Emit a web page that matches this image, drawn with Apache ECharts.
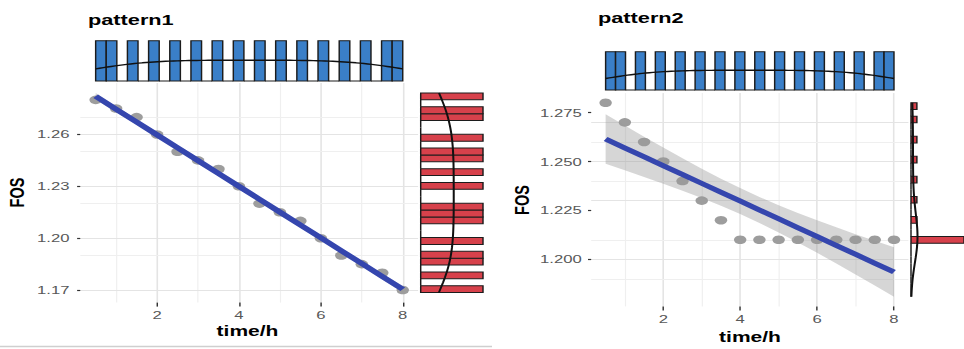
<!DOCTYPE html>
<html><head><meta charset="utf-8">
<script src="https://cdn.jsdelivr.net/npm/echarts@6/dist/echarts.min.js"></script>
<style>
html,body{margin:0;padding:0;background:#fff;overflow:hidden;width:964px;height:349px;}
#chart{position:absolute;left:0;top:0;width:665px;height:349px;transform:scaleX(1.449624);transform-origin:0 0;}
</style></head><body><div id="chart"></div>
<script>
// ---------------- data ----------------
const timeH = [0.5,1,1.5,2,2.5,3,3.5,4,4.5,5,5.5,6,6.5,7,7.5,8];
const fosPattern1 = [1.28,1.275,1.27,1.26,1.25,1.245,1.24,1.23,1.22,1.215,1.21,1.20,1.19,1.185,1.18,1.17];
const fosPattern2 = [1.28,1.27,1.26,1.25,1.24,1.23,1.22,1.21,1.21,1.21,1.21,1.21,1.21,1.21,1.21,1.21];
const panelTitles = ['pattern1','pattern2'];
const xTicks = [2,4,6,8];
const xMinor = [1,3,5,7];
const yTicksPattern1 = [1.17,1.20,1.23,1.26];
const yMinorPattern1 = [1.185,1.215,1.245,1.275];
const yTicksPattern2 = [1.200,1.225,1.250,1.275];
const yMinorPattern2 = [1.1875,1.2125,1.2375,1.2625];
const T975 = 2.144787; // t quantile, df = 16 - 2

// ---------------- helpers ----------------
const S = 964/665;
const px = v => v / S;
function mean(a){return a.reduce((s,v)=>s+v,0)/a.length;}
function q7(s,p){const h=(s.length-1)*p;const l=Math.floor(h);const u=Math.min(l+1,s.length-1);return s[l]+(h-l)*(s[u]-s[l]);}
function bwNrd0(a){const n=a.length,m=mean(a);const sd=Math.sqrt(a.reduce((s,v)=>s+(v-m)*(v-m),0)/(n-1));
  const s=[...a].sort((p,q)=>p-q);const iqr=q7(s,0.75)-q7(s,0.25);let lo=Math.min(sd,iqr/1.34);if(!(lo>0))lo=sd;return 0.9*lo*Math.pow(n,-0.2);}
function kde(a,lo,hi,m,scale){const bw=bwNrd0(a),n=a.length,out=[];
  for(let i=0;i<m;i++){const x=lo+(hi-lo)*i/(m-1);let d=0;for(const v of a){const z=(x-v)/bw;d+=Math.exp(-0.5*z*z);}
    out.push([x,d/(n*bw*Math.sqrt(2*Math.PI))*scale]);}return out;}
function hist(a,lo,hi,nb){const w=(hi-lo)/nb;const c=new Array(nb).fill(0);
  a.forEach(v=>{let k=Math.floor((v-lo)/w+1e-9);if(k>=nb)k=nb-1;if(k<0)k=0;c[k]++;});
  return {w:w,bins:c.map((n,i)=>[lo+i*w,lo+(i+1)*w,n]),max:Math.max(...c)};}
function linfit(x,y){const n=x.length,mx=mean(x),my=mean(y);let sxx=0,sxy=0;
  for(let i=0;i<n;i++){sxx+=(x[i]-mx)**2;sxy+=(x[i]-mx)*(y[i]-my);}
  const b=sxy/sxx,a=my-b*mx;let rss=0;for(let i=0;i<n;i++){rss+=(y[i]-a-b*x[i])**2;}
  const s=Math.sqrt(rss/(n-2));
  return x.map(xi=>{const f=a+b*xi;const se=s*Math.sqrt(1/n+(xi-mx)**2/sxx);return [xi,f,f-T975*se,f+T975*se];});}

// ---------------- layout (reference pixels) ----------------
const layouts = [
  {main:[80.3,83,418.1,302.6], top:[40.7,81], right:[420.7,483], title:[88,19.7], fos:[17.5,192.5], time:[247.5,331], ymarg:7.5, dec:2,
   yT:yTicksPattern1, yM:yMinorPattern1, y:fosPattern1},
  {main:[591.2,93.1,908.4,306.4], top:[51.7,90], right:[911,974], title:[598,17.5], fos:[521.7,200], time:[750,337], ymarg:6.5, dec:3,
   yT:yTicksPattern2, yM:yMinorPattern2, y:fosPattern2}
];

const grids=[],xAxes=[],yAxes=[],series=[],graphics=[];
const lblFont={fontFamily:'Liberation Sans',fontSize:11.5,color:'#585858'};

layouts.forEach((L,p)=>{
  const g=grids.length;
  const y=L.y;
  const fit=linfit(timeH,y);
  const xlo=Math.min(...timeH),xhi=Math.max(...timeH);
  const ylo=Math.min(...y,...fit.map(f=>f[2])),yhi=Math.max(...y,...fit.map(f=>f[3]));
  const xr=xhi-xlo,yr=yhi-ylo;
  const xmin=xlo-0.05*xr,xmax=xhi+0.05*xr,ymin=ylo-0.05*yr,ymax=yhi+0.05*yr;
  const [mx0,my0,mx1,my1]=L.main;
  grids.push({left:px(mx0),top:my0,width:px(mx1-mx0),height:my1-my0});
  grids.push({left:px(mx0),top:L.top[0],width:px(mx1-mx0),height:L.top[1]-L.top[0]});
  grids.push({left:px(L.right[0]),top:my0,width:px(L.right[1]-L.right[0]),height:my1-my0});

  const hx=hist(timeH,xlo,xhi,29);
  const hy=hist(y,ylo,yhi,29);

  xAxes.push({gridIndex:g,type:'value',min:xmin,max:xmax,axisLine:{show:false},splitLine:{show:false},
    axisTick:{show:true,length:4,customValues:xTicks,lineStyle:{color:'#333',width:1}},
    axisLabel:Object.assign({customValues:xTicks,margin:6.5},lblFont)});
  yAxes.push({gridIndex:g,type:'value',min:ymin,max:ymax,axisLine:{show:false},splitLine:{show:false},
    axisTick:{show:true,length:2.2,customValues:L.yT,lineStyle:{color:'#333',width:1.2}},
    axisLabel:Object.assign({customValues:L.yT,margin:L.ymarg,formatter:v=>Number(v).toFixed(L.dec)},lblFont)});
  xAxes.push({gridIndex:g+1,type:'value',min:xmin,max:xmax,show:false});
  yAxes.push({gridIndex:g+1,type:'value',min:0,max:hx.max,show:false});
  xAxes.push({gridIndex:g+2,type:'value',min:0,max:hy.max,show:false});
  yAxes.push({gridIndex:g+2,type:'value',min:ymin,max:ymax,show:false});

  const gl=(v,axis,major)=>({[axis]:v,lineStyle:{color:major?'#e4e4e4':'#efefef',width:major?1.1:0.8,type:'solid'}});
  series.push({type:'line',xAxisIndex:g,yAxisIndex:g,data:[],z:0,silent:true,
    markLine:{silent:true,z:0,symbol:['none','none'],label:{show:false},animation:false,
      data:[...xTicks.map(v=>gl(v,'xAxis',true)),...xMinor.map(v=>gl(v,'xAxis',false)),
            ...L.yT.map(v=>gl(v,'yAxis',true)),...L.yM.map(v=>gl(v,'yAxis',false))]}});
  // points
  series.push({type:'scatter',xAxisIndex:g,yAxisIndex:g,data:timeH.map((t,i)=>[t,y[i]]),
    symbolSize:8.6,itemStyle:{color:'#9d9d9d',opacity:1},z:2,silent:true});
  // confidence band (one polygon through the fitted points)
  series.push({type:'custom',xAxisIndex:g,yAxisIndex:g,data:[[fit[0][0],fit[0][1]]],z:3,silent:true,clip:true,
    renderItem:(params,api)=>{
      const upper=fit.map(f=>api.coord([f[0],f[3]]));
      const lower=fit.slice().reverse().map(f=>api.coord([f[0],f[2]]));
      return {type:'polygon',shape:{points:upper.concat(lower)},style:{fill:'rgba(153,153,153,0.4)'}};}});
  // fit line
  series.push({type:'line',xAxisIndex:g,yAxisIndex:g,data:fit.map(f=>[f[0],f[1]]),
    symbol:'none',lineStyle:{color:'#3546ae',width:4.8},z:4,silent:true});
  // top histogram
  series.push({type:'custom',xAxisIndex:g+1,yAxisIndex:g+1,data:hx.bins,silent:true,z:2,
    renderItem:(params,api)=>{const a=api.coord([api.value(0),0]);const b=api.coord([api.value(1),api.value(2)]);
      return {type:'rect',shape:{x:a[0],y:b[1],width:b[0]-a[0],height:a[1]-b[1]},
        style:{fill:'#3a7fc8',stroke:'#1c1c1c',lineWidth:1}};}});
  series.push({type:'line',xAxisIndex:g+1,yAxisIndex:g+1,data:kde(timeH,xlo,xhi,80,timeH.length*hx.w),
    symbol:'none',lineStyle:{color:'#111',width:1.4},z:3,silent:true});
  // right histogram
  series.push({type:'custom',xAxisIndex:g+2,yAxisIndex:g+2,data:hy.bins,silent:true,z:2,
    renderItem:(params,api)=>{const a=api.coord([0,api.value(0)]);const b=api.coord([api.value(2),api.value(1)]);
      return {type:'rect',shape:{x:a[0],y:b[1],width:b[0]-a[0],height:a[1]-b[1]},
        style:{fill:'#d7414b',stroke:'#1c1c1c',lineWidth:1}};}});
  series.push({type:'line',xAxisIndex:g+2,yAxisIndex:g+2,data:kde(y,ylo,yhi,80,y.length*hy.w).map(d=>[d[1],d[0]]),
    symbol:'none',lineStyle:{color:'#111',width:1.4},z:3,silent:true});

  graphics.push({type:'text',x:px(L.title[0]),y:L.title[1],style:{text:panelTitles[p],font:'bold 15px "Liberation Sans"',fill:'#000',align:'left',verticalAlign:'middle'}});
  graphics.push({type:'text',x:px(L.fos[0]),y:L.fos[1],rotation:Math.PI/2,style:{text:'FOS',font:'bold 14.5px "Liberation Sans"',fill:'#000',align:'center',verticalAlign:'middle'}});
  graphics.push({type:'text',x:px(L.time[0]),y:L.time[1],style:{text:'time/h',font:'bold 14.5px "Liberation Sans"',fill:'#000',align:'center',verticalAlign:'middle'}});
});
graphics.push({type:'line',shape:{x1:0,y1:346.5,x2:px(492),y2:346.5},style:{stroke:'#cfcfcf',lineWidth:1.5}});

const chart=echarts.init(document.getElementById('chart'),null,{renderer:'svg',width:665,height:349});
chart.setOption({animation:false,backgroundColor:'#fff',grid:grids,xAxis:xAxes,yAxis:yAxes,series:series,graphic:graphics});
</script></body></html>
